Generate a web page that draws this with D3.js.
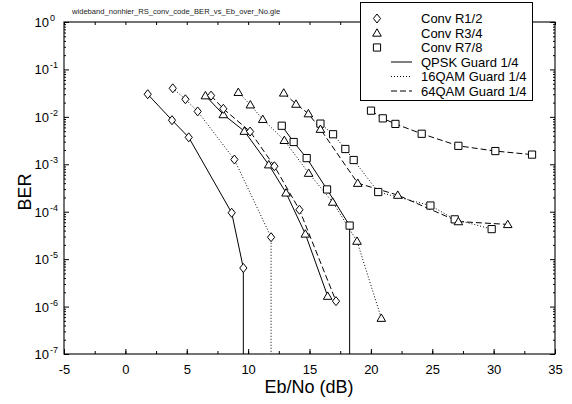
<!DOCTYPE html>
<html>
<head>
<meta charset="utf-8">
<script src="https://cdn.jsdelivr.net/npm/d3@7"></script>
<style>
  html, body { margin: 0; padding: 0; background: #fff; }
  svg { display: block; font-family: "Liberation Sans", Arial, Helvetica, sans-serif; }
</style>
</head>
<body>
<svg id="chart" width="572" height="404"></svg>
<script>
// ---- data (Eb/No in dB, BER; BER 0 = error-free, drawn as a drop to the axis) ----
const qpskR12Eb  = [1.82, 3.8, 5.16, 8.66, 9.61, 9.61];
const qpskR12Ber = [3.0e-2, 8.5e-3, 3.7e-3, 9.5e-5, 6.5e-6, 0];
const qpskR34Eb  = [6.52, 7.98, 9.69, 11.68, 13.09, 14.66, 16.48];
const qpskR34Ber = [2.8e-2, 1.12e-2, 5.0e-3, 9.8e-4, 2.5e-4, 3.4e-5, 1.66e-6];
const qpskR78Eb  = [12.74, 13.71, 14.77, 16.43, 18.27, 18.27];
const qpskR78Ber = [6.5e-3, 2.95e-3, 1.35e-3, 2.95e-4, 5.1e-5, 0];

const qam16R12Eb  = [3.86, 4.89, 5.89, 8.88, 11.87, 11.87];
const qam16R12Ber = [4.0e-2, 2.35e-2, 1.3e-2, 1.26e-3, 2.9e-5, 0];
const qam16R34Eb  = [9.2, 10.18, 11.19, 12.95, 14.93, 16.89, 18.87, 20.85];
const qam16R34Ber = [3.3e-2, 1.8e-2, 8.9e-3, 3.2e-3, 6.5e-4, 1.6e-4, 2.4e-5, 5.7e-7];
const qam16R78Eb  = [15.89, 16.92, 17.92, 18.6, 20.6, 24.85, 26.83, 29.84];
const qam16R78Ber = [7.2e-3, 4.3e-3, 2.1e-3, 1.23e-3, 2.6e-4, 1.35e-4, 6.9e-5, 4.3e-5];

const qam64R12Eb  = [6.98, 7.98, 10.16, 12.14, 14.18, 17.16];
const qam64R12Ber = [2.8e-2, 1.48e-2, 4.9e-3, 9.1e-4, 1.1e-4, 1.3e-6];
const qam64R34Eb  = [12.9, 13.9, 14.91, 15.89, 18.93, 22.19, 27.13, 31.15];
const qam64R34Ber = [3.2e-2, 1.86e-2, 1.17e-2, 5.5e-3, 4.0e-4, 2.24e-4, 6.2e-5, 5.4e-5];
const qam64R78Eb  = [20.01, 20.97, 22.0, 24.14, 27.13, 30.14, 33.13];
const qam64R78Ber = [1.35e-2, 9.3e-3, 7.1e-3, 4.4e-3, 2.45e-3, 1.9e-3, 1.6e-3];

const codeRates   = ["Conv R1/2", "Conv R3/4", "Conv R7/8"];
const modulations = ["QPSK Guard 1/4", "16QAM Guard 1/4", "64QAM Guard 1/4"];
const xTicks = [-5, 0, 5, 10, 15, 20, 25, 30, 35];
const yExponents = [0, -1, -2, -3, -4, -5, -6, -7];
const titleText = "wideband_nonhier_RS_conv_code_BER_vs_Eb_over_No.gle";
const xLabel = "Eb/No (dB)";
const yLabel = "BER";

const series = [
  { mod: 0, rate: 0, eb: qpskR12Eb,  ber: qpskR12Ber },
  { mod: 0, rate: 1, eb: qpskR34Eb,  ber: qpskR34Ber },
  { mod: 0, rate: 2, eb: qpskR78Eb,  ber: qpskR78Ber },
  { mod: 1, rate: 0, eb: qam16R12Eb, ber: qam16R12Ber },
  { mod: 1, rate: 1, eb: qam16R34Eb, ber: qam16R34Ber },
  { mod: 1, rate: 2, eb: qam16R78Eb, ber: qam16R78Ber },
  { mod: 2, rate: 0, eb: qam64R12Eb, ber: qam64R12Ber },
  { mod: 2, rate: 1, eb: qam64R34Eb, ber: qam64R34Ber },
  { mod: 2, rate: 2, eb: qam64R78Eb, ber: qam64R78Ber },
];

// ---- layout ----
const L = 64, R = 555, T = 22, B = 354;
const svg = d3.select("#chart");
const x = d3.scaleLinear().domain([-5, 35]).range([L, R]);
const y = d3.scaleLog().domain([1e-7, 1]).range([B, T]);
const dashes = [null, "1,2", "6,3"];

// title
svg.append("text").attr("x", 72).attr("y", 14).attr("font-size", 7.6).attr("fill", "#222")
  .text(titleText);

// ---- curves ----
const plot = svg.append("g");
const yOf = v => v > 0 ? y(v) : B;
const line = d3.line().x(d => x(d[0])).y(d => yOf(d[1]));
series.forEach(s => {
  const pts = s.eb.map((e, i) => [e, s.ber[i]]);
  plot.append("path").attr("d", line(pts)).attr("fill", "none")
    .attr("stroke", "#000").attr("stroke-width", 1)
    .attr("stroke-dasharray", dashes[s.mod]);
});

// markers
function markerPath(rate, cx, cy) {
  if (rate === 0) return `M${cx},${cy-4.5}L${cx+3.6},${cy}L${cx},${cy+4.5}L${cx-3.6},${cy}Z`;
  if (rate === 1) return `M${cx},${cy-4.2}L${cx+4.3},${cy+3.2}L${cx-4.3},${cy+3.2}Z`;
  return `M${cx-3.6},${cy-3.6}h7.2v7.2h-7.2Z`;
}
series.forEach(s => {
  s.eb.forEach((e, i) => {
    if (!(s.ber[i] > 0)) return;
    plot.append("path").attr("d", markerPath(s.rate, x(e), y(s.ber[i])))
      .attr("fill", "#fff").attr("stroke", "#000").attr("stroke-width", 1);
  });
});

// ---- axes (ticks pointing inward on all sides) ----
const xMinor = d3.range(-5, 35.01, 2.5);
const yMinor = [];
for (let e = -7; e < 0; e++) for (let m = 2; m <= 9; m++) yMinor.push(m * Math.pow(10, e));
const yMajor = yExponents.map(e => Math.pow(10, e));

function styleAxis(g) {
  g.select(".domain").remove();
  g.selectAll("line").attr("stroke", "#000").attr("stroke-width", 1);
}
svg.append("g").attr("transform", `translate(0,${B})`)
  .call(d3.axisBottom(x).tickValues(xMinor).tickSize(-3).tickFormat("")).call(styleAxis);
svg.append("g").attr("transform", `translate(0,${T})`)
  .call(d3.axisTop(x).tickValues(xMinor).tickSize(-3).tickFormat("")).call(styleAxis);
svg.append("g").attr("transform", `translate(0,${B})`)
  .call(d3.axisBottom(x).tickValues(xTicks).tickSize(-5).tickPadding(11).tickFormat(d => String(d)))
  .call(styleAxis)
  .selectAll("text").attr("font-size", 13).attr("fill", "#000")
  .attr("font-family", "Liberation Sans, Arial, sans-serif");

svg.append("g").attr("transform", `translate(${L},0)`)
  .call(d3.axisLeft(y).tickValues(yMinor).tickSize(-2).tickFormat("")).call(styleAxis);
svg.append("g").attr("transform", `translate(${R},0)`)
  .call(d3.axisRight(y).tickValues(yMinor).tickSize(-2).tickFormat("")).call(styleAxis);
svg.append("g").attr("transform", `translate(${L},0)`)
  .call(d3.axisLeft(y).tickValues(yMajor).tickSize(-5).tickFormat("")).call(styleAxis);
svg.append("g").attr("transform", `translate(${R},0)`)
  .call(d3.axisRight(y).tickValues(yMajor).tickSize(-5).tickFormat("")).call(styleAxis);

// y tick labels 10^n
yExponents.forEach(e => {
  svg.append("text").attr("x", 49).attr("y", y(Math.pow(10, e)) + 5)
    .attr("text-anchor", "end").attr("font-size", 13).attr("fill", "#000").text("10");
  svg.append("text").attr("x", 50).attr("y", y(Math.pow(10, e)) - 1)
    .attr("font-size", 9).attr("fill", "#000").text(String(e));
});

// frame
svg.append("rect").attr("x", L).attr("y", T).attr("width", R - L).attr("height", B - T)
  .attr("fill", "none").attr("stroke", "#000").attr("stroke-width", 1.1);

// axis labels
svg.append("text").attr("x", 309).attr("y", 393).attr("text-anchor", "middle")
  .attr("font-size", 18).attr("fill", "#000").text(xLabel);
svg.append("text").attr("transform", `translate(31,${(T + B) / 2 + 4}) rotate(-90)`)
  .attr("text-anchor", "middle").attr("font-size", 18).attr("fill", "#000").text(yLabel);

// ---- legend ----
const lg = svg.append("g");
lg.append("rect").attr("x", 360.5).attr("y", 2.5).attr("width", 172).attr("height", 98)
  .attr("fill", "#fff").attr("stroke", "#000").attr("stroke-width", 1);
const rowY = i => 18.5 + i * 14.5;
codeRates.forEach((name, i) => {
  lg.append("path").attr("d", markerPath(i, 377, rowY(i)))
    .attr("fill", "#fff").attr("stroke", "#000").attr("stroke-width", 1);
  lg.append("text").attr("x", 421).attr("y", rowY(i) + 4.5).attr("font-size", 13)
    .attr("fill", "#000").text(name);
});
modulations.forEach((name, i) => {
  const yy = rowY(i + 3);
  lg.append("line").attr("x1", 391).attr("x2", 412).attr("y1", yy).attr("y2", yy)
    .attr("stroke", "#000").attr("stroke-width", 1).attr("stroke-dasharray", dashes[i]);
  lg.append("text").attr("x", 421).attr("y", yy + 4.5).attr("font-size", 13)
    .attr("fill", "#000").text(name);
});
</script>
</body>
</html>
